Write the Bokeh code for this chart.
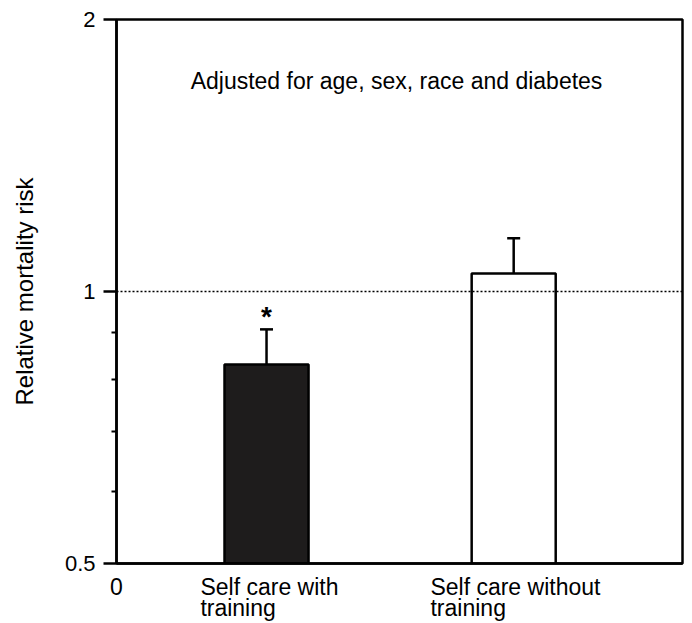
from bokeh.plotting import figure
from bokeh.models import (ColumnDataSource, FixedTicker, Span, Label, Whisker,
                          TeeHead, LinearAxis)
from bokeh.core.properties import value
from bokeh.embed import file_html
from bokeh.resources import INLINE

# ---- data ----
categories = ["Self care with\ntraining", "Self care without\ntraining"]
bar_x = [0.607, 1.607]
risk = [0.83, 1.047]
risk_upper = [0.908, 1.145]
bar_colors = ["#1e1c1c", "#ffffff"]
# label centres for the two text rows (left-aligned look in the original)
row1_x = [0.619, 1.614]
row2_x = [0.492, 1.423]
x_ticks = [0]
x_tick_labels = ["0"]
y_ticks = [0.5, 1, 2]
y_tick_labels = ["0.5", "1", "2"]
y_minor = [0.6, 0.7, 0.8, 0.9]
note = "Adjusted for age, sex, race and diabetes"
y_title = "Relative mortality risk"

FONT = "Liberation Sans"
FS = "22px"
FS_TEXT = "23px"

p = figure(width=692, height=623, y_axis_type="log",
           x_range=(0, 2.29), y_range=(0.5, 2),
           output_backend="svg", toolbar_location=None,
           min_border_left=116, min_border_top=19,
           min_border_right=10, min_border_bottom=60)
p.background_fill_color = "white"
p.border_fill_color = "white"
p.grid.visible = False
p.outline_line_color = "black"
p.outline_line_width = 2.5

src = ColumnDataSource(dict(x=bar_x, top=risk, upper=risk_upper,
                            color=bar_colors, bottom=[0.5, 0.5]))
p.vbar(x="x", top="top", bottom="bottom", width=0.34, source=src,
       fill_color="color", line_color="black", line_width=2.5)

wh = Whisker(base="x", lower="top", upper="upper", source=src,
             dimension="height", line_color="black", line_width=2.5,
             lower_head=None,
             upper_head=TeeHead(size=13, line_color="black", line_width=2.5))
p.add_layout(wh)

p.add_layout(Span(location=1, dimension="width", line_color="black",
                  line_width=1.5, line_dash="2 2"))

# significance asterisk above first error bar
p.text(x=[bar_x[0]], y=[risk_upper[0]], text=["*"],
       text_font=value(FONT), text_font_size="28px", text_font_style="bold",
       text_align="center", text_baseline="alphabetic", y_offset=-13,
       text_color="black")

p.add_layout(Label(x=0.30, y=1.71, text=note, text_font=FONT,
                   text_font_size=FS_TEXT, text_color="black",
                   text_baseline="alphabetic", text_align="left"))

# y axis
ya = p.yaxis[0]
ya.ticker = FixedTicker(ticks=y_ticks, minor_ticks=y_minor)
ya.major_label_overrides = {t: l for t, l in zip(y_ticks, y_tick_labels)}
ya.axis_label = y_title
ya.axis_label_text_font = FONT
ya.axis_label_text_font_size = "24px"
ya.axis_label_text_font_style = "normal"
ya.axis_label_text_color = "black"
ya.axis_label_standoff = 24
ya.major_label_text_font = FONT
ya.major_label_text_font_size = FS
ya.major_label_text_color = "black"
ya.major_label_standoff = 8
ya.major_tick_out = 13
ya.major_tick_in = 0
ya.minor_tick_out = 5
ya.minor_tick_in = 0
ya.major_tick_line_width = 2.5
ya.minor_tick_line_width = 2
ya.axis_line_width = 2.5
ya.axis_line_color = "black"

lines = [c.split("\n") for c in categories]

def style_x(ax, standoff):
    ax.major_label_text_font = FONT
    ax.major_label_text_font_size = FS_TEXT
    ax.major_label_text_color = "black"
    ax.major_label_text_line_height = 0.95
    ax.major_label_standoff = standoff
    ax.major_tick_out = 0
    ax.major_tick_in = 0
    ax.minor_tick_out = 0
    ax.minor_tick_in = 0
    ax.axis_label_standoff = 0
    ax.major_tick_line_color = None
    ax.minor_tick_line_color = None

# x axis: first label row ("0" and first line of each category)
row1_ticks = x_ticks + row1_x
row1_labels = x_tick_labels + [l[0] for l in lines]
xa = p.xaxis[0]
xa.ticker = FixedTicker(ticks=row1_ticks, minor_ticks=[])
xa.major_label_overrides = {t: l for t, l in zip(row1_ticks, row1_labels)}
style_x(xa, 10)
xa.axis_line_width = 2.5
xa.axis_line_color = "black"

# second label row (second line of each category)
xb = LinearAxis(ticker=FixedTicker(ticks=row2_x, minor_ticks=[]))
xb.major_label_overrides = {t: l[1] for t, l in zip(row2_x, lines)}
style_x(xb, -8)
xb.axis_line_color = None
p.add_layout(xb, "below")

open("out.html", "w").write(file_html(p, INLINE))
